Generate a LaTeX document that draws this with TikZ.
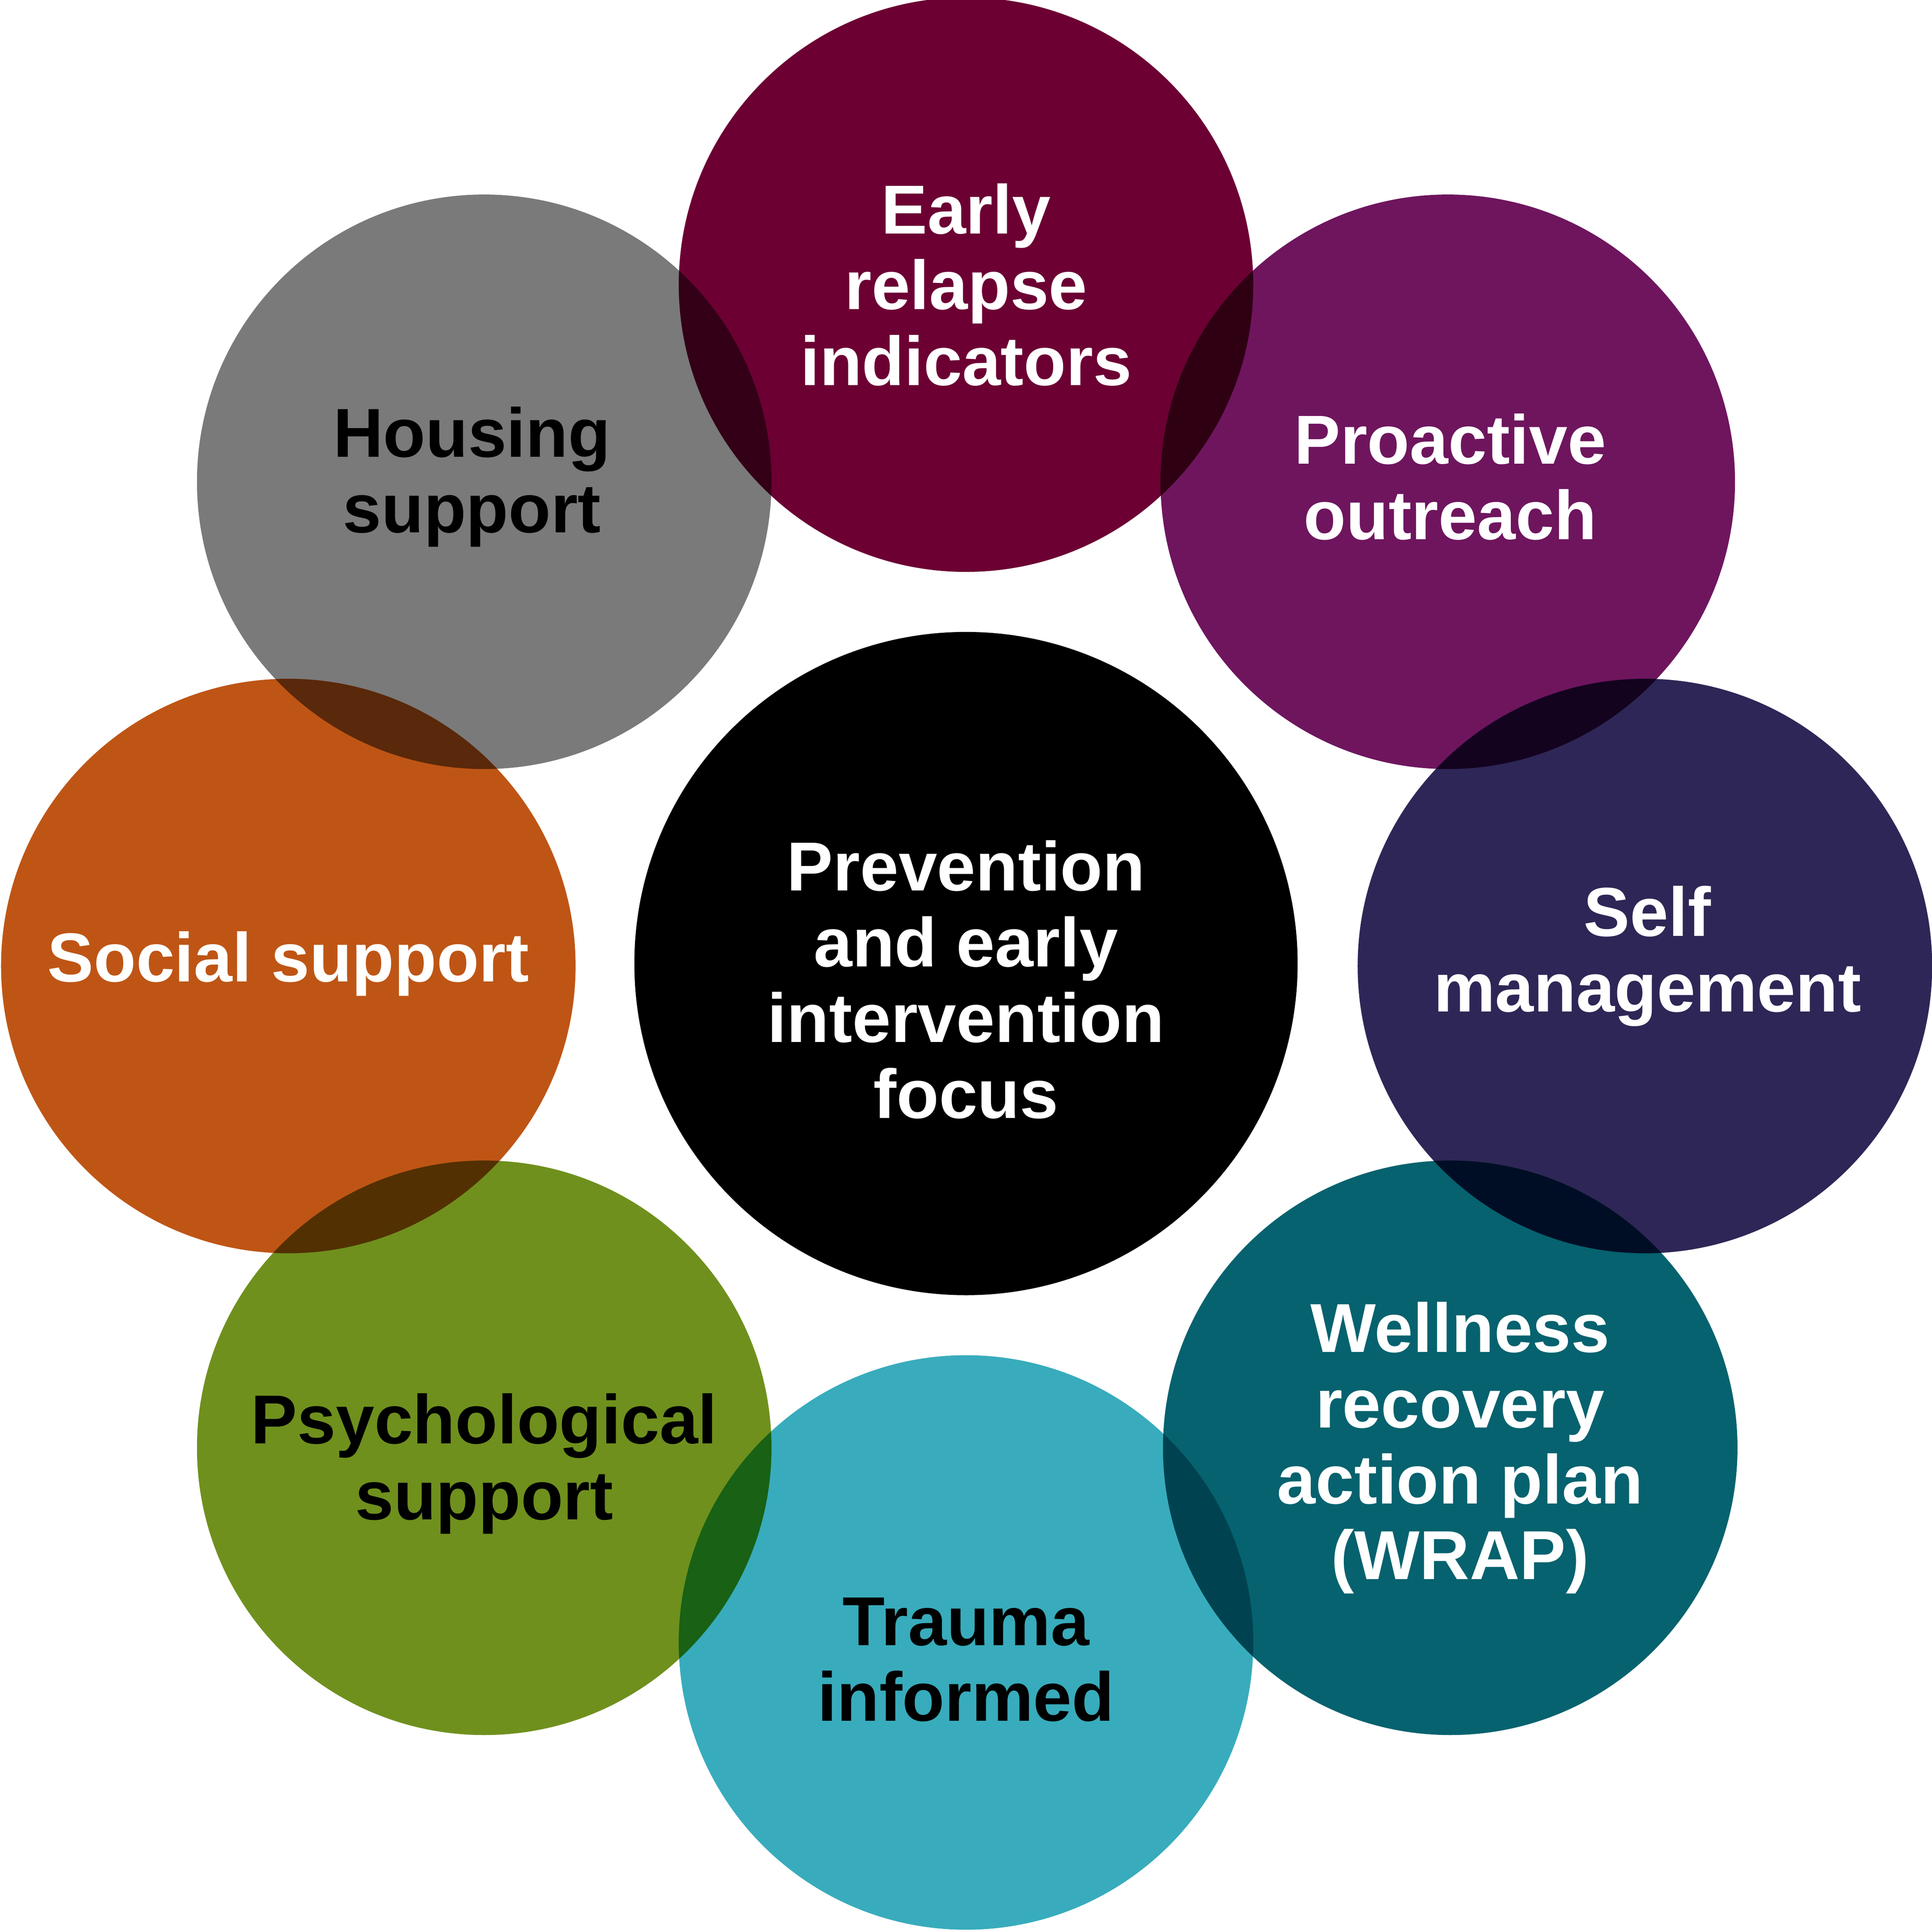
\documentclass[tikz,border=0pt]{standalone}
\usepackage{fontspec}
\setmainfont{Liberation Sans}
\definecolor{cMaroon}{HTML}{6C0033}
\definecolor{cPurple}{HTML}{6E155E}
\definecolor{cNavy}{HTML}{2E2656}
\definecolor{cTeal}{HTML}{05626E}
\definecolor{cLTeal}{HTML}{38ACBC}
\definecolor{cOlive}{HTML}{6F901D}
\definecolor{cOrange}{HTML}{BE5515}
\definecolor{cGrey}{HTML}{7A7A7A}
\begin{document}
\begin{tikzpicture}[x=0.01cm,y=-0.01cm,
  circ/.style={circle,minimum size=4.66cm,inner sep=0pt,draw=none},
  lbl/.style={align=center,font=\fontsize{16}{17.5}\selectfont\bfseries}]
\useasboundingbox (0,0) rectangle (1568,1568);
\fill[white] (0,0) rectangle (1568,1568);
\node[circ,fill=black,minimum size=5.38cm] (c) at (784,782) {};
\begin{scope}[blend group=multiply]
\node[circ,fill=cMaroon] (e) at (784,231) {};
\node[circ,fill=cPurple] (p) at (1175,391) {};
\node[circ,fill=cNavy] (s) at (1335,784) {};
\node[circ,fill=cTeal] (w) at (1177,1175) {};
\node[circ,fill=cLTeal] (t) at (784,1333) {};
\node[circ,fill=cOlive] (ps) at (393,1175) {};
\node[circ,fill=cOrange] (so) at (234,784) {};
\node[circ,fill=cGrey] (h) at (393,391) {};
\end{scope}
\node[lbl,white] (ct) at (784,795) {Prevention\\and early\\intervention\\focus};
\node[lbl,white] (et) at (784,231) {Early\\relapse\\indicators};
\node[lbl,white] (pt) at (1177,387) {Proactive\\outreach};
\node[lbl,white] (st) at (1337,776) {Self\\management};
\node[lbl,white] (wt) at (1185,1175) {Wellness\\recovery\\action plan\\(WRAP)};
\node[lbl,black] (tt) at (784,1347) {Trauma\\informed};
\node[lbl,black] (pst) at (393,1188) {Psychological\\support};
\node[lbl,white] (sot) at (234,782) {Social support};
\node[lbl,black] (ht) at (383,387) {Housing\\support};
\end{tikzpicture}
\end{document}
